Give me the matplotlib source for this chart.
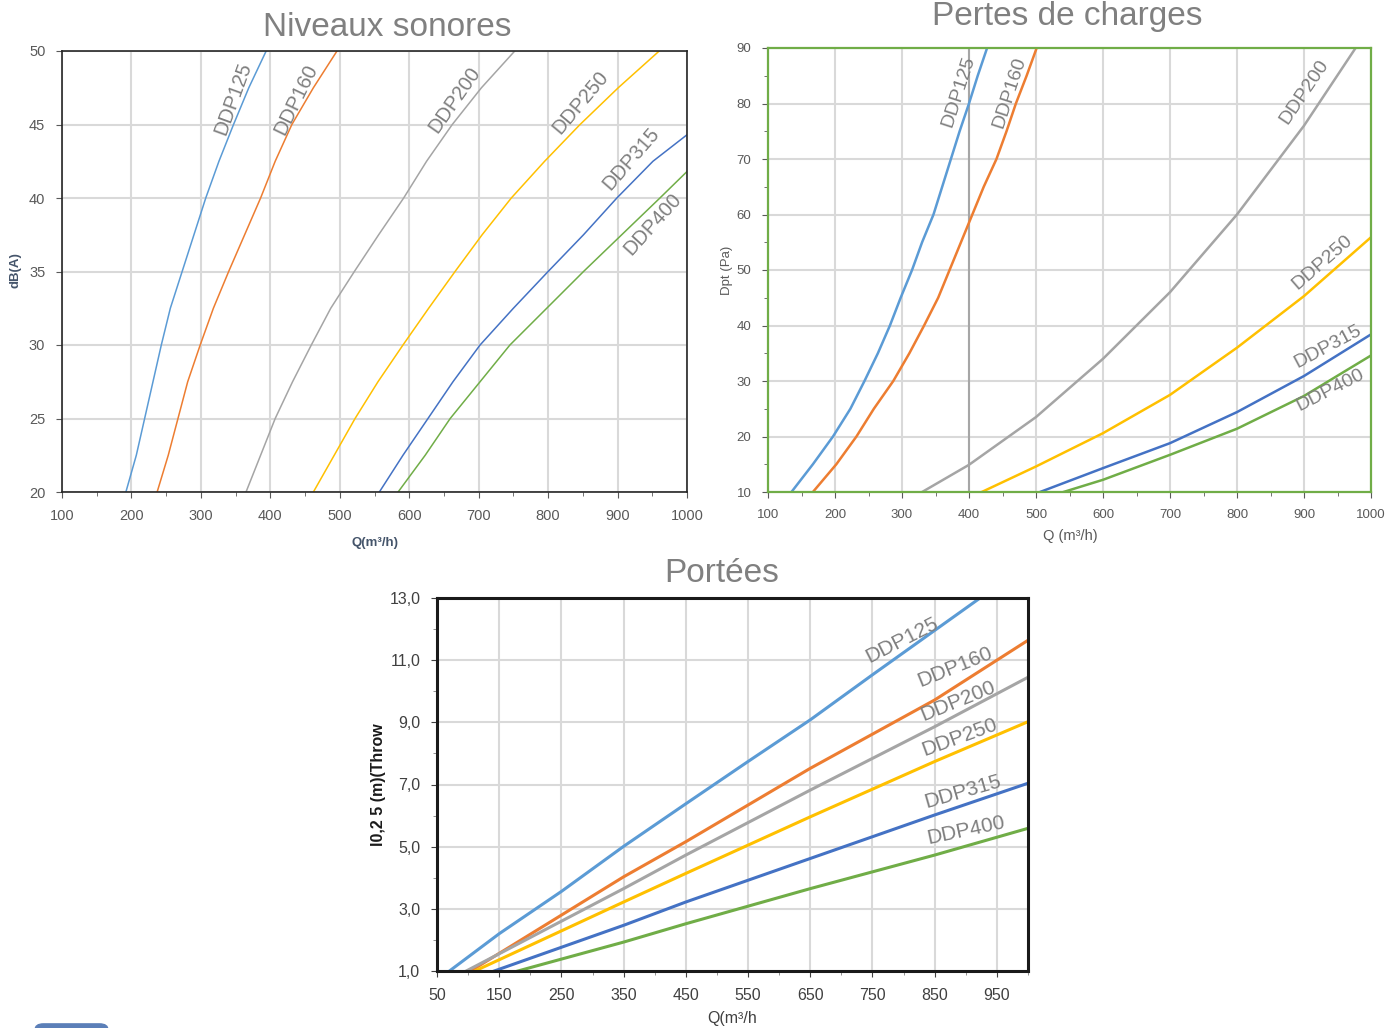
import matplotlib
matplotlib.use("Agg")
import matplotlib.pyplot as plt
from matplotlib import font_manager
from matplotlib.patches import FancyBboxPatch

plt.rcParams["font.family"] = ["Liberation Sans", "DejaVu Sans"]
names = {f.name for f in font_manager.fontManager.ttflist}
narrow = "Liberation Sans Narrow" if "Liberation Sans Narrow" in names else "Liberation Sans"

# --- data ---
models = ["DDP125", "DDP160", "DDP200", "DDP250", "DDP315", "DDP400"]
colors = ["#5B9BD5", "#ED7D31", "#A5A5A5", "#FFC000", "#4472C4", "#70AD47"]

# Niveaux sonores : Q (m3/h) vs dB(A)
db_full = [20, 22.5, 25, 27.5, 30, 32.5, 35, 37.5, 40, 42.5, 45, 47.5, 50]
son_q = [
    [192, 207, 219, 231, 243, 256, 273, 290, 307, 326, 347, 369, 394],
    [237, 253, 267, 281, 299, 318, 340, 363, 386, 407, 431, 462, 496],
    [365, 407, 432, 459, 487, 521, 556, 592, 625, 662, 704, 752],
    [462, 492, 522, 555, 591, 628, 666, 705, 747, 795, 846, 901, 960],
    [557, 591, 627, 663, 702, 750, 800, 851, 899, 951, 1000],
    [584, 623, 659, 702, 745, 798, 851, 906, 961, 1000],
]
son_db = [
    db_full,
    db_full,
    [20, 25, 27.5, 30, 32.5, 35, 37.5, 40, 42.5, 45, 47.5, 50],
    db_full,
    [20, 22.5, 25, 27.5, 30, 32.5, 35, 37.5, 40, 42.5, 44.3],
    [20, 22.5, 25, 27.5, 30, 32.5, 35, 37.5, 40, 41.8],
]

# Pertes de charges : Q (m3/h) vs Dpt (Pa)
dp_full = [10, 15, 20, 25, 30, 35, 40, 45, 50, 55, 60, 65, 70, 75, 80, 85, 90]
pdc_q = [
    [135, 167, 197, 223, 244, 264, 282, 298, 315, 330, 347, 360, 373, 386, 400, 413, 427],
    [167, 202, 232, 258, 287, 311, 333, 354, 371, 388, 405, 422, 441, 456, 470, 486, 501],
    [330, 400, 500, 600, 700, 800, 900, 977],
    [419, 500, 600, 700, 800, 900, 1000],
    [506, 600, 700, 800, 900, 1000],
    [541, 600, 700, 800, 900, 1000],
]
pdc_dp = [
    dp_full,
    dp_full,
    [10, 14.9, 23.5, 34.0, 46.0, 60.0, 76.0, 90],
    [10, 14.6, 20.6, 27.5, 36.0, 45.3, 55.9],
    [10, 14.3, 18.8, 24.4, 30.9, 38.4],
    [10, 12.2, 16.7, 21.4, 27.3, 34.6],
]

# Portees : Q (m3/h) vs l0,25 (m)
por_q = [
    [70, 150, 250, 350, 450, 550, 650, 750, 923],
    [104, 350, 450, 650, 850, 1000],
    [97, 350, 450, 650, 850, 1000],
    [111, 350, 450, 650, 850, 1000],
    [142, 350, 450, 650, 850, 1000],
    [180, 350, 450, 650, 850, 1000],
]
por_l = [
    [1.0, 2.2, 3.56, 5.01, 6.38, 7.74, 9.08, 10.53, 13.0],
    [1.0, 4.03, 5.16, 7.52, 9.72, 11.64],
    [1.0, 3.65, 4.73, 6.82, 8.86, 10.45],
    [1.0, 3.22, 4.14, 5.96, 7.74, 9.02],
    [1.0, 2.47, 3.22, 4.62, 6.02, 7.04],
    [1.0, 1.93, 2.52, 3.65, 4.73, 5.59],
]

# curve label placement (anchor, rotation)
son_lab = [(346, 46.8, 70), (437, 46.7, 64), (666, 46.7, 55),
           (846, 46.5, 50), (919, 42.7, 49), (950, 38.2, 48)]
pdc_lab = [(384, 82.1, 72), (460, 82.0, 72), (901, 82.1, 56),
           (928, 51.4, 41), (936, 36.1, 28), (939, 28.4, 27)]
por_lab = [(797, 11.65, 27), (883, 10.78, 22), (887, 9.69, 22),
           (890, 8.53, 20), (895, 6.76, 16), (900, 5.54, 12)]

por_yticks = [1, 3, 5, 7, 9, 11, 13]
por_ylabels = ["1,0", "3,0", "5,0", "7,0", "9,0", "11,0", "13,0"]

W, H = 1387, 1028
fig = plt.figure(figsize=(W / 100, H / 100), dpi=100)
fig.patch.set_facecolor("white")

def px_axes(l, t, r, b):
    return fig.add_axes([l / W, 1 - b / H, (r - l) / W, (b - t) / H])

grid_c = "#D9D9D9"
tick_c = "#595959"
lab_c = "#7F7F7F"

# ---------- Niveaux sonores ----------
ax1 = px_axes(62, 51, 687, 492)
for q, d, c in zip(son_q, son_db, colors):
    ax1.plot(q, d, color=c, lw=1.1)
for (x, y, r), m in zip(son_lab, models):
    ax1.text(x, y, m, rotation=r, ha="center", va="center", color=lab_c, fontsize=14.5)
ax1.set_xlim(100, 1000)
ax1.set_ylim(20, 50)
ax1.set_xticks(range(100, 1001, 100))
ax1.set_xticks(range(150, 1000, 100), minor=True)
ax1.set_yticks(range(20, 51, 5))
ax1.grid(True, color=grid_c, lw=1.5)
ax1.set_axisbelow(True)
for s in ax1.spines.values():
    s.set_color("#262626")
    s.set_linewidth(1.2)
ax1.tick_params(colors=tick_c, labelsize=10.5, length=4, pad=8)
ax1.tick_params(which="minor", length=3, color=tick_c)
fig.text(387 / W, 1 - 27 / H, "Niveaux sonores", ha="center", va="center",
         fontsize=24, color="#808080")
fig.text(16 / W, 1 - 270 / H, "dB(A)", rotation=90, ha="center", va="center",
         fontsize=9.5, color="#44546A", fontweight="bold")
fig.text(375 / W, 1 - 543 / H, "Q(m³/h)", ha="center", va="center",
         fontsize=9.5, color="#44546A", fontweight="bold")

# ---------- Pertes de charges ----------
ax2 = px_axes(768, 48, 1371, 492)
ax2.axvline(400, color="#A6A6A6", lw=1.5, zorder=1)
for q, d, c in zip(pdc_q, pdc_dp, colors):
    ax2.plot(q, d, color=c, lw=1.8)
for (x, y, r), m in zip(pdc_lab, models):
    ax2.text(x, y, m, rotation=r, ha="center", va="center", color=lab_c, fontsize=14)
ax2.set_xlim(100, 1000)
ax2.set_ylim(10, 90)
ax2.set_xticks(range(100, 1001, 100))
ax2.set_xticks(range(150, 1000, 100), minor=True)
ax2.set_yticks(range(10, 91, 10))
ax2.set_yticks(range(15, 90, 10), minor=True)
ax2.grid(True, color=grid_c, lw=1.5)
ax2.set_axisbelow(True)
for s in ax2.spines.values():
    s.set_color("#70AD47")
    s.set_linewidth(1.6)
ax2.tick_params(colors=tick_c, labelsize=9.5, length=4, pad=8)
ax2.tick_params(which="minor", length=3, color=tick_c)
fig.text(1067 / W, 1 - 17 / H, "Pertes de charges", ha="center", va="center",
         fontsize=24, color="#808080")
fig.text(727 / W, 1 - 270 / H, "Dpt (Pa)", rotation=90, ha="center", va="center",
         fontsize=9.5, color=tick_c)
fig.text(1070 / W, 1 - 536 / H, "Q (m³/h)", ha="center", va="center",
         fontsize=10.5, color=tick_c)

# ---------- Portees ----------
ax3 = px_axes(437, 598, 1028, 971)
for q, l, c in zip(por_q, por_l, colors):
    ax3.plot(q, l, color=c, lw=2.2)
for (x, y, r), m in zip(por_lab, models):
    ax3.text(x, y, m, rotation=r, ha="center", va="center", color=lab_c, fontsize=15)
ax3.set_xlim(50, 1000)
ax3.set_ylim(1, 13)
ax3.set_xticks(range(50, 951, 100))
ax3.set_xticks(range(100, 1001, 100), minor=True)
ax3.set_yticks(por_yticks)
ax3.set_yticklabels(por_ylabels)
ax3.set_yticks(range(2, 13, 2), minor=True)
ax3.grid(True, color=grid_c, lw=1.5)
ax3.set_axisbelow(True)
for s in ax3.spines.values():
    s.set_color("#1A1A1A")
    s.set_linewidth(2.2)
ax3.tick_params(colors="#404040", labelsize=11.5, length=4, pad=8)
ax3.tick_params(which="minor", length=3, color="#7F7F7F")
for t in ax3.get_xticklabels() + ax3.get_yticklabels():
    t.set_fontfamily(narrow)
fig.text(722 / W, 1 - 573 / H, "Portées", ha="center", va="center",
         fontsize=24, color="#808080")
fig.text(378 / W, 1 - 785 / H, "l0,2 5 (m)(Throw", rotation=90, ha="center",
         va="center", fontsize=11.5, color="#1A1A1A", fontweight="bold")
fig.text(732 / W, 1 - 1018 / H, "Q(m³/h", ha="center", va="center",
         fontsize=11.5, color="#404040", family=narrow)

# small blue button peeking in the bottom-left corner
fig.patches.append(FancyBboxPatch((35 / W, -0.01), 73 / W, 0.014,
                                  boxstyle="round,pad=0,rounding_size=0.006",
                                  transform=fig.transFigure, color="#5B7FB8"))

fig.savefig("out.png", dpi=100)
